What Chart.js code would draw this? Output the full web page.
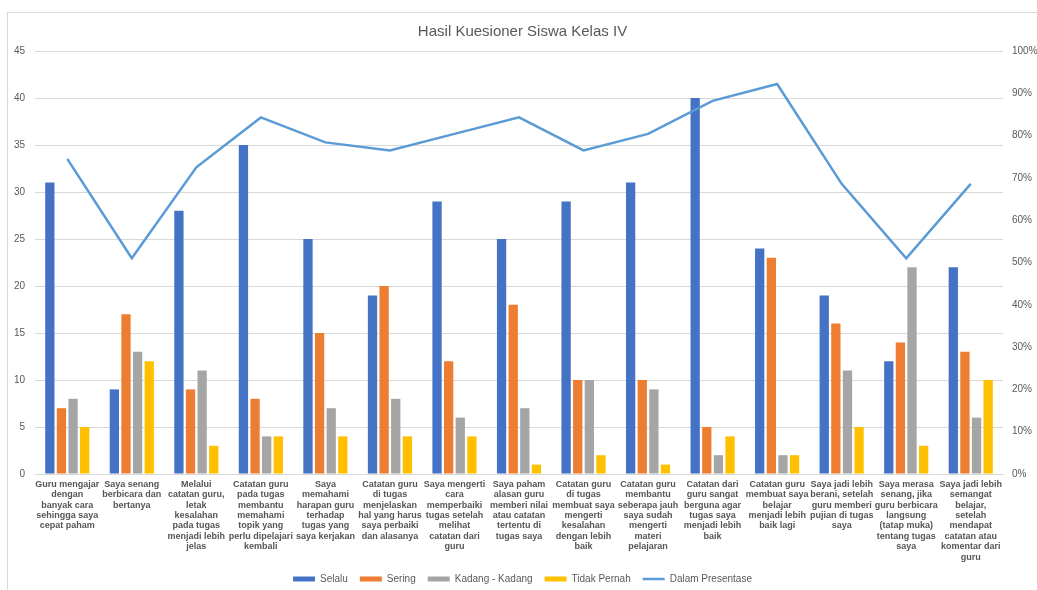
<!DOCTYPE html>
<html>
<head>
<meta charset="utf-8">
<script src="https://cdn.jsdelivr.net/npm/chart.js@4.4.0/dist/chart.umd.min.js"></script>
<style>
  body { margin: 0; background: #fff; }
  #wrap { position: relative; width: 1037px; height: 590px; overflow: hidden; }
  #frame { position: absolute; left: 7px; top: 12px; width: 1040px; height: 600px; border: 1px solid #d9d9d9; }
  canvas { position: absolute; left: 0; top: 0; }
</style>
</head>
<body>
<div id="wrap">
  <div id="frame"></div>
  <canvas id="chart" width="1037" height="590"></canvas>
</div>
<script>
const categories = [
    ['Guru mengajar', 'dengan', 'banyak cara', 'sehingga saya', 'cepat paham'],
    ['Saya senang', 'berbicara dan', 'bertanya'],
    ['Melalui', 'catatan guru,', 'letak', 'kesalahan', 'pada tugas', 'menjadi lebih', 'jelas'],
    ['Catatan guru', 'pada tugas', 'membantu', 'memahami', 'topik yang', 'perlu dipelajari', 'kembali'],
    ['Saya', 'memahami', 'harapan guru', 'terhadap', 'tugas yang', 'saya kerjakan'],
    ['Catatan guru', 'di tugas', 'menjelaskan', 'hal yang harus', 'saya perbaiki', 'dan alasanya'],
    ['Saya mengerti', 'cara', 'memperbaiki', 'tugas setelah', 'melihat', 'catatan dari', 'guru'],
    ['Saya paham', 'alasan guru', 'memberi nilai', 'atau catatan', 'tertentu di', 'tugas saya'],
    ['Catatan guru', 'di tugas', 'membuat saya', 'mengerti', 'kesalahan', 'dengan lebih', 'baik'],
    ['Catatan guru', 'membantu', 'seberapa jauh', 'saya sudah', 'mengerti', 'materi', 'pelajaran'],
    ['Catatan dari', 'guru sangat', 'berguna agar', 'tugas saya', 'menjadi lebih', 'baik'],
    ['Catatan guru', 'membuat saya', 'belajar', 'menjadi lebih', 'baik lagi'],
    ['Saya jadi lebih', 'berani, setelah', 'guru memberi', 'pujian di tugas', 'saya'],
    ['Saya merasa', 'senang, jika', 'guru berbicara', 'langsung', '(tatap muka)', 'tentang tugas', 'saya'],
    ['Saya jadi lebih', 'semangat', 'belajar,', 'setelah', 'mendapat', 'catatan atau', 'komentar dari', 'guru']
];
const selalu     = [31, 9, 28, 35, 25, 19, 29, 25, 29, 31, 40, 24, 19, 12, 22];
const sering     = [7, 17, 9, 8, 15, 20, 12, 18, 10, 10, 5, 23, 16, 14, 13];
const kadang     = [8, 13, 11, 4, 7, 8, 6, 7, 10, 9, 2, 2, 11, 22, 6];
const tidakPernah = [5, 12, 3, 4, 4, 4, 4, 1, 2, 1, 4, 2, 5, 3, 10];
const presentase = [74.5, 51, 72.5, 84.3, 78.4, 76.5, 80.4, 84.3, 76.5, 80.4, 88.2, 92.2, 68.6, 51, 68.6];

const grey = '#595959';
const fontFamily = '"Liberation Sans", Arial, sans-serif';

function bar(label, data, color) {
    return {
        type: 'bar',
        label: label,
        data: data,
        backgroundColor: color,
        borderWidth: 0,
        pointStyle: 'rect',
        yAxisID: 'y',
        categoryPercentage: 0.72,
        barPercentage: 0.8,
        order: 2
    };
}

const config = {
    data: {
        labels: categories,
        datasets: [
            bar('Selalu', selalu, '#4472C4'),
            bar('Sering', sering, '#ED7D31'),
            bar('Kadang - Kadang', kadang, '#A5A5A5'),
            bar('Tidak Pernah', tidakPernah, '#FFC000'),
            {
                type: 'line',
                label: 'Dalam Presentase',
                data: presentase,
                borderColor: '#5B9BD5',
                backgroundColor: '#5B9BD5',
                borderWidth: 2.5,
                pointRadius: 0,
                pointStyle: 'line',
                tension: 0,
                yAxisID: 'y1',
                order: 1
            }
        ]
    },
    options: {
        responsive: false,
        animation: false,
        layout: { padding: { left: 8, right: 0, top: 0, bottom: -4 } },
        plugins: {
            title: {
                display: true,
                text: 'Hasil Kuesioner Siswa Kelas IV',
                color: grey,
                font: { family: fontFamily, size: 15, weight: 'normal' },
                padding: { top: 23, bottom: 10 }
            },
            legend: {
                position: 'bottom',
                labels: {
                    usePointStyle: true,
                    pointStyleWidth: 22,
                    boxHeight: 5,
                    padding: 12,
                    color: grey,
                    font: { family: fontFamily, size: 10 },
                    sort: (a, b) => a.datasetIndex - b.datasetIndex
                }
            },
            tooltip: { enabled: false }
        },
        scales: {
            x: {
                grid: { display: false, drawTicks: false },
                border: { color: '#d9d9d9' },
                afterFit: scale => { scale.height = 88; },
                ticks: {
                    autoSkip: false,
                    maxRotation: 0,
                    minRotation: 0,
                    padding: 5,
                    color: '#555555',
                    font: { family: fontFamily, size: 9, weight: 'bold', lineHeight: 1.16 }
                }
            },
            y: {
                position: 'left',
                min: 0,
                max: 45,
                afterFit: scale => { scale.width = 27; },
                ticks: {
                    stepSize: 5,
                    padding: 10,
                    color: grey,
                    font: { family: fontFamily, size: 10 }
                },
                grid: { color: '#d9d9d9', drawTicks: false },
                border: { display: false }
            },
            y1: {
                position: 'right',
                min: 0,
                max: 100,
                afterFit: scale => { scale.width = 34; },
                ticks: {
                    stepSize: 10,
                    padding: 9,
                    color: grey,
                    font: { family: fontFamily, size: 10 },
                    callback: v => v + '%'
                },
                grid: { display: false, drawTicks: false },
                border: { display: false }
            }
        }
    }
};

const chart = new Chart(document.getElementById('chart'), config);
</script>
</body>
</html>
